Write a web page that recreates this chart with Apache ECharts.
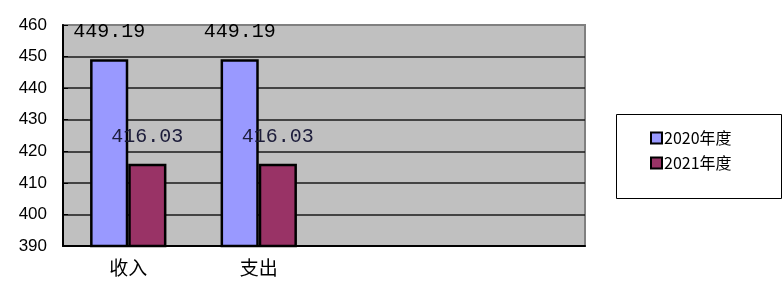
<!DOCTYPE html>
<html><head><meta charset="utf-8">
<script src="https://cdn.jsdelivr.net/npm/echarts@6/dist/echarts.min.js"></script>
<style>html,body{margin:0;padding:0;background:#fff}#c{width:782px;height:282px}</style>
</head><body><div id="c"></div>
<script>
const categories = ['收入', '支出', '', ''];
const seriesNames = ['2020年度', '2021年度'];
const values2020 = [449.19, 449.19, null, null];
const values2021 = [416.03, 416.03, null, null];
const yTicks = { min: 390, max: 460, interval: 10 };

const chart = echarts.init(document.getElementById('c'), null, { renderer: 'canvas' });
const labelStyle = (color) => ({
  show: true, position: 'top', distance: 17,
  fontFamily: 'Liberation Mono', fontSize: 20, color: color,
  formatter: p => p.value.toFixed(2)
});
chart.setOption({
  animation: false,
  grid: { left: 63, right: 197, top: 25, bottom: 36, show: true,
    backgroundColor: '#C0C0C0', borderColor: '#808080', borderWidth: 2 },
  legend: {
    orient: 'vertical', left: 645, top: 125, itemWidth: 11, itemHeight: 11, itemGap: 9,
    icon: 'rect',
    textStyle: { fontFamily: 'Noto Sans CJK SC', fontSize: 16, color: '#000', padding: [0, 0, 0, -3] },
    data: seriesNames
  },
  graphic: [{ type: 'rect', shape: { x: 616.5, y: 114.5, width: 165, height: 84 },
    style: { fill: 'none', stroke: '#000', lineWidth: 1 } }],
  xAxis: {
    type: 'category', data: categories,
    axisLine: { lineStyle: { color: '#000', width: 2 } },
    axisTick: { inside: true, length: 5, lineStyle: { color: '#000', width: 2 } },
    axisLabel: { fontFamily: 'Noto Sans CJK SC', fontSize: 19, color: '#000', margin: 12 }
  },
  yAxis: {
    type: 'value', min: yTicks.min, max: yTicks.max, interval: yTicks.interval,
    axisLine: { show: true, lineStyle: { color: '#000', width: 2 } },
    axisTick: { show: true, inside: true, length: 5, lineStyle: { color: '#000' } },
    axisLabel: { fontFamily: 'Liberation Sans', fontSize: 17, color: '#000', margin: 16 },
    splitLine: { lineStyle: { width: 1.5,
      color: ['#000', '#1a1a1a', '#1a1a1a', '#1a1a1a', '#1a1a1a', '#1a1a1a', '#1a1a1a', '#808080'] } }
  },
  series: [
    { name: seriesNames[0], type: 'bar', data: values2020, barGap: '0%', barCategoryGap: '41.5%',
      itemStyle: { color: '#9999FF', borderColor: '#000', borderWidth: 2.5 },
      label: labelStyle('#000') },
    { name: seriesNames[1], type: 'bar', data: values2021,
      itemStyle: { color: '#993366', borderColor: '#000', borderWidth: 2.5 },
      label: labelStyle('#1c1c3a') }
  ]
});
</script></body></html>
